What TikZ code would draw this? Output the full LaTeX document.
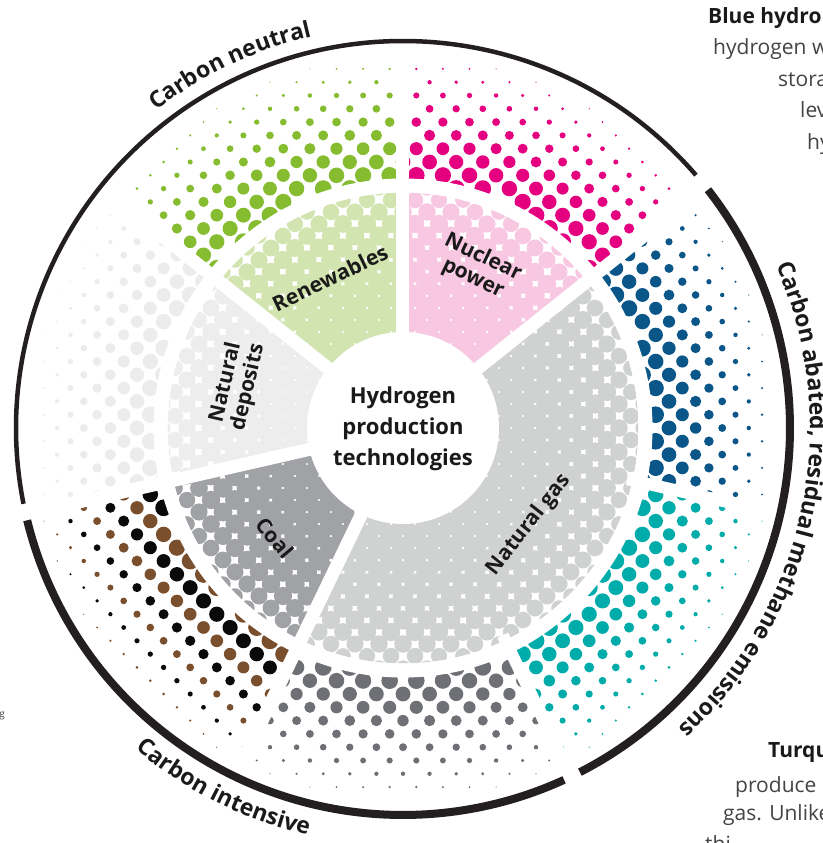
\documentclass[tikz,border=0pt]{standalone}
\usepackage{fontspec}
\setmainfont{Open Sans}
\usetikzlibrary{decorations.text}
\definecolor{pinkD}{HTML}{E4007F}
\definecolor{pinkL}{HTML}{F8C8E2}
\definecolor{greenD}{HTML}{86BC2F}
\definecolor{greenL}{HTML}{D2E4B0}
\definecolor{blueD}{HTML}{0B5688}
\definecolor{tealD}{HTML}{00ACA9}
\definecolor{greyD}{HTML}{6E7075}
\definecolor{gasL}{HTML}{D0D1D1}
\definecolor{coalL}{HTML}{A1A2A5}
\definecolor{depL}{HTML}{EDEDED}
\definecolor{depD}{HTML}{ECECEC}
\definecolor{brownD}{HTML}{7A4F2D}
\definecolor{blackD}{HTML}{0A0A0A}
\definecolor{arcK}{HTML}{231F20}
\definecolor{txtK}{HTML}{1A1A1A}
\definecolor{bodyG}{HTML}{444444}

% inner ring sector on a 45-degree square lattice
% #1 start angle, #2 span, #3 colour, #4-#7 lattice index ranges
\newcommand\innerpart[7]{%
\begin{scope}
\clip (0,0) -- (#1:240) arc[start angle=#1, delta angle=#2, radius=240] -- cycle;
\clip (0,0) circle[radius=235.5];
\foreach \m in {#4,...,#5}{\foreach \n in {#6,...,#7}{%
 \ifodd\numexpr\m+\n\relax\else
  \pgfmathsetmacro\rr{veclen(12*\m,12*\n)}%
  \ifdim\rr pt>249pt\relax\else\ifdim\rr pt<80pt\relax\else
   \pgfmathsetmacro\RR{min(11.2,11.2-3.3*((\rr-100)/135)^2)}%
   \fill[#3] (12*\m,12*\n) circle[radius=\RR];
  \fi\fi
 \fi}}
\end{scope}}

% outer ring sector: #1 start angle, #2/#3 colours, #4-#7 ranges
\newcommand\outerpart[7]{%
\begin{scope}
\clip (0,0) -- (#1:400) arc[start angle=#1, delta angle=51.428571, radius=400] -- cycle;
\foreach \m in {#4,...,#5}{\foreach \n in {#6,...,#7}{%
 \ifodd\numexpr\m+\n\relax\else
  \pgfmathsetmacro\rr{veclen(13.3*\m,13.3*\n)}%
  \ifdim\rr pt>372pt\relax\else\ifdim\rr pt<245pt\relax\else
   \pgfmathsetmacro\RR{min(8.5,(17-(\rr-250)*15.5/118)/2)}%
   \ifodd\numexpr(\m+\n)/2\relax
    \fill[#3] (13.3*\m,13.3*\n) circle[radius=\RR];
   \else
    \fill[#2] (13.3*\m,13.3*\n) circle[radius=\RR];
   \fi
  \fi\fi
 \fi}}
\end{scope}}

\newcommand\arcfont{\bfseries\fontsize{23}{23}\selectfont}

\tikzset{
 seclabel/.style={font=\bfseries\fontsize{21}{23}\selectfont, text=txtK, align=center, inner sep=0},
 bodytext/.style={font=\fontsize{21}{21}\selectfont, text=bodyG, anchor=base west, inner sep=0},
 headtext/.style={font=\bfseries\fontsize{21}{21}\selectfont, text=txtK, anchor=base west, inner sep=0},
 gapband/.style={white, line width=13},
 blackarc/.style={arcK, line width=#1}
}

\begin{document}
\begin{tikzpicture}[x=1pt,y=1pt]
\useasboundingbox (-403,-415) rectangle (419,428);
\begin{scope}
\clip (-403,-415) rectangle (419,428);
\fill[white] (-403,-415) rectangle (419,428);

% inner ring
\innerpart{38.571429}{51.428571}{pinkL}{-1}{17}{3}{21}
\innerpart{90}{51.428571}{greenL}{-17}{1}{3}{21}
\innerpart{141.428571}{51.428571}{depL}{-21}{-4}{-5}{13}
\innerpart{192.857143}{51.428571}{coalL}{-21}{-2}{-19}{-1}
\innerpart{244.285714}{154.285714}{gasL}{-10}{21}{-21}{13}

% outer ring
\outerpart{38.571429}{pinkD}{pinkD}{-1}{23}{10}{28}
\outerpart{90}{greenD}{greenD}{-23}{1}{10}{28}
\outerpart{141.428571}{depD}{depD}{-28}{-13}{-8}{19}
\outerpart{192.857143}{blackD}{brownD}{-28}{-6}{-27}{-3}
\outerpart{244.285714}{greyD}{greyD}{-14}{14}{-28}{-15}
\outerpart{295.714286}{tealD}{tealD}{6}{28}{-27}{-3}
\outerpart{347.142857}{blueD}{blueD}{13}{28}{-8}{19}

% white gaps
\draw[white, line width=14] (0,0) circle[radius=242.5];
\foreach \a in {38.571429,90,141.428571,192.857143,244.285714}
  \draw[gapband] (\a:80) -- (\a:378);
\foreach \a in {295.714286,347.142857}
  \draw[gapband, line width=12] (\a:230) -- (\a:378);
\fill[white] (0,0) circle[radius=96];

% black arcs
\draw[blackarc=4.5] (40.8:387) arc[start angle=40.8, end angle=191.3, radius=387];
\draw[blackarc=8] (193.8:387) arc[start angle=193.8, end angle=294.6, radius=387];
\draw[blackarc=8] (297.2:387) arc[start angle=297.2, end angle=398.0, radius=387];

% arc labels
\path[decorate, decoration={text along path, text align=center, text color=txtK, text={|\arcfont|Carbon neutral}}]
  (145:402) arc[start angle=145, end angle=86, radius=402];
\path[decorate, decoration={text along path, text align=center, text color=txtK, text={|\arcfont|Carbon intensive}}]
  (213:418) arc[start angle=213, end angle=274, radius=418];
\path[decorate, decoration={text along path, text align=center, text color=txtK, text={|\arcfont|Carbon abated, residual methane emissions}}]
  (45:407) arc[start angle=45, end angle=-69, radius=407];

% centre
\node[font=\bfseries\fontsize{22}{31}\selectfont, text=txtK, align=center] (hub) at (0,-1) {Hydrogen\\production\\technologies};

% sector labels
\node[seclabel, rotate=25.7] (ren) at (-73,150) {Renewables};
\node[seclabel, rotate=-25.7] (nuc) at (75,160) {Nuclear\\power};
\node[seclabel, rotate=77] (dep) at (-166,43) {Natural\\deposits};
\node[seclabel, rotate=-50] (coal) at (-128,-110) {Coal};
\node[seclabel, rotate=52] (gas) at (126,-97) {Natural gas};

% cut-off side texts
\node[headtext] (bh) at (305,404) {Blue hydro};
\node[bodytext] (b1) at (310,373) {hydrogen w};
\node[bodytext] (b2) at (375,341) {stora};
\node[bodytext] (b3) at (397,310) {lev};
\node[bodytext] (b4) at (404,278) {hy};
\node[headtext] (th) at (365,-329) {Turqu};
\node[bodytext] (t1) at (332,-364) {produce};
\node[bodytext] (t2) at (320,-392) {gas. Unlike};
\node[bodytext] (t3) at (302,-423) {thi};
\node[font=\fontsize{10}{10}\selectfont, text=bodyG, anchor=east, inner sep=0] (lf) at (-398,-288) {g};
\end{scope}
\end{tikzpicture}
\end{document}
